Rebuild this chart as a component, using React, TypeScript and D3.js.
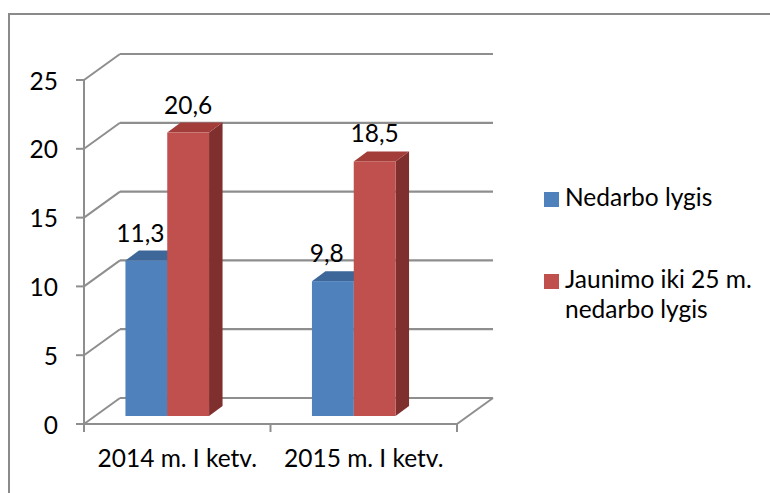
import React from "react";
import * as d3 from "d3";

const categories = ["2014 m. I ketv.", "2015 m. I ketv."];
const seriesNames = ["Nedarbo lygis", "Jaunimo iki 25 m. nedarbo lygis"];
const unemployment = [11.3, 9.8];
const youthUnemployment = [20.6, 18.5];
const yTicks = [0, 5, 10, 15, 20, 25];

const colors = [
  { front: "#4f81bd", top: "#3d6699", side: "#375e8f" },
  { front: "#c0504d", top: "#a33d3a", side: "#7f2f2d" },
];

const FONT = "Lato, 'Open Sans', sans-serif";
const FS = 24.5;

const App = () => {
  const width = 770;
  const height = 493;

  // front plane of the 3d box
  const x0 = 84;
  const x1 = 457;
  const depthX = 36;
  const depthY = -26;

  const yScale = d3.scaleLinear().domain([0, 25]).range([424, 80]);
  const xFront = d3.scaleBand<string>().domain(categories).range([x0, x1]);

  // bars sit a bit deeper inside the box
  const barShiftX = -10;
  const barShiftY = -8;
  const barW = 41.8;
  const barDx = 13.5;
  const barDy = -10;
  const xBar = d3
    .scaleBand<string>()
    .domain(categories)
    .range([x0 + barShiftX, x1 + barShiftX]);
  const xSeries = d3
    .scaleBand<number>()
    .domain([0, 1])
    .range([0, barW * 2]);

  const values = [unemployment, youthUnemployment];
  const labelDx = [-6, 0];

  const gridColor = "#8e8e8e";

  return (
    <svg
      width={width}
      height={height}
      style={{ position: "absolute", left: 0, top: 0, background: "#fff" }}
      fontFamily={FONT}
    >
      <rect x={9} y={14} width={800} height={520} fill="#fff" stroke="#8a8a8a" strokeWidth={2} />

      {/* floor */}
      <line x1={x1} y1={yScale(0)} x2={x1 + depthX} y2={yScale(0) + depthY} stroke={gridColor} strokeWidth={2} />

      {/* gridlines on back wall and left wall */}
      {yTicks.map((t) => (
        <g key={t}>
          <line
            x1={x0}
            y1={yScale(t)}
            x2={x0 + depthX}
            y2={yScale(t) + depthY}
            stroke={gridColor}
            strokeWidth={2}
          />
          <line
            x1={x0 + depthX}
            y1={yScale(t) + depthY}
            x2={x1 + depthX}
            y2={yScale(t) + depthY}
            stroke={gridColor}
            strokeWidth={2.2}
          />
          <line x1={x0 - 8} y1={yScale(t)} x2={x0} y2={yScale(t)} stroke={gridColor} strokeWidth={2} />
          <text
            x={58}
            y={yScale(t)}
            textAnchor="end"
            dominantBaseline="central"
            fontSize={FS}
            fill="#000"
          >
            {t}
          </text>
        </g>
      ))}

      {/* front axes */}
      <line x1={x0} y1={yScale(25)} x2={x0} y2={yScale(0)} stroke={gridColor} strokeWidth={2} />
      <line x1={x0} y1={yScale(0)} x2={x1} y2={yScale(0)} stroke={gridColor} strokeWidth={2} />
      {[...categories.map((c) => xFront(c)!), x1].map((x, i) => (
        <line key={i} x1={x} y1={yScale(0)} x2={x} y2={yScale(0) + 8} stroke={gridColor} strokeWidth={2} />
      ))}
      {categories.map((c) => (
        <text
          key={c}
          x={xFront(c)! + xFront.bandwidth() / 2}
          y={467}
          textAnchor="middle"
          fontSize={FS}
          fill="#000"
        >
          {c}
        </text>
      ))}

      {/* 3d columns */}
      {categories.map((c, i) => {
        const pairStart = xBar(c)! + (xBar.bandwidth() - barW * 2) / 2;
        return (
          <g key={c}>
            {values.map((vals, s) => {
              const x = pairStart + xSeries(s)!;
              const yt = yScale(vals[i]) + barShiftY;
              const yb = yScale(0) + barShiftY;
              const col = colors[s];
              return (
                <g key={s}>
                  <polygon
                    points={`${x + barW},${yt} ${x + barW + barDx},${yt + barDy} ${x + barW + barDx},${yb + barDy} ${x + barW},${yb}`}
                    fill={col.side}
                  />
                  <polygon
                    points={`${x},${yt} ${x + barW},${yt} ${x + barW + barDx},${yt + barDy} ${x + barDx},${yt + barDy}`}
                    fill={col.top}
                  />
                  <rect x={x} y={yt} width={barW} height={yb - yt} fill={col.front} />
                </g>
              );
            })}
            {values.map((vals, s) => {
              const x = pairStart + xSeries(s)!;
              const yt = yScale(vals[i]) + barShiftY;
              return (
                <text
                  key={"l" + s}
                  x={x + barW / 2 + labelDx[s]}
                  y={yt - 19}
                  textAnchor="middle"
                  fontSize={FS}
                  fill="#000"
                >
                  {String(vals[i]).replace(".", ",")}
                </text>
              );
            })}
          </g>
        );
      })}

      {/* legend */}
      <rect x={544} y={192} width={15} height={15} fill={colors[0].front} />
      <text x={565} y={206} fontSize={FS} fill="#000">
        {seriesNames[0]}
      </text>
      <rect x={544} y={274} width={15} height={15} fill={colors[1].front} />
      <text x={565} y={288} fontSize={FS} fill="#000">
        <tspan x={565}>Jaunimo iki 25 m.</tspan>
        <tspan x={565} dy={30}>
          nedarbo lygis
        </tspan>
      </text>
    </svg>
  );
};

export default App;
